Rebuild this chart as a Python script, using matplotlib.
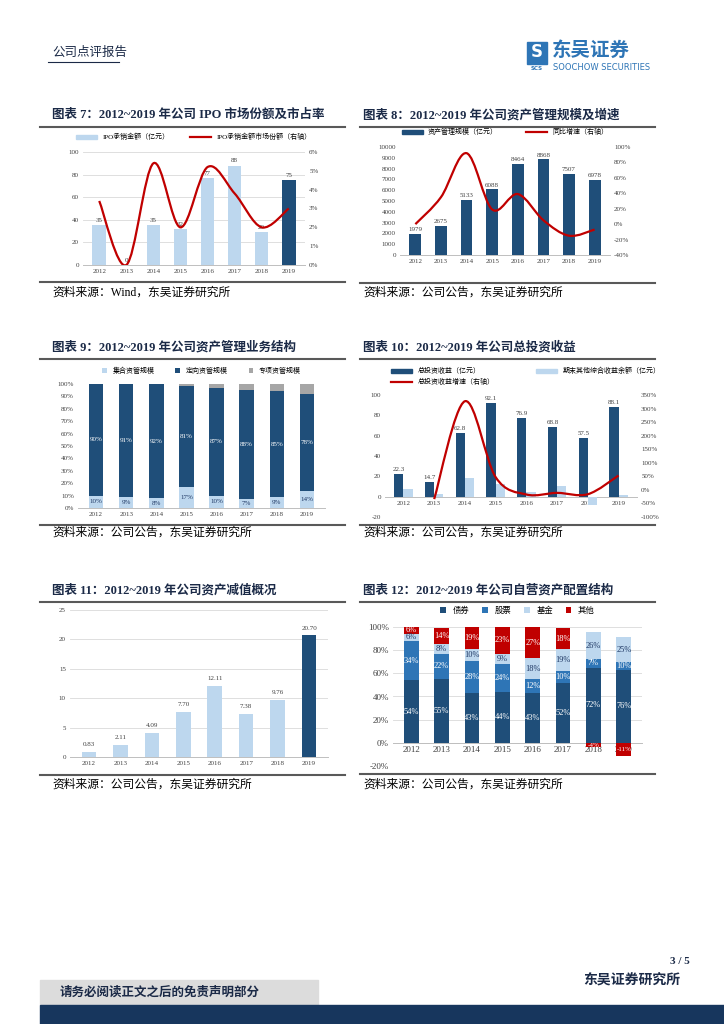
import numpy as np
import matplotlib.pyplot as plt
from matplotlib.path import Path
from matplotlib.patches import PathPatch, Rectangle
from matplotlib.ticker import FuncFormatter

plt.rcParams['font.family'] = ['Liberation Serif', 'Noto Sans CJK SC', 'DejaVu Sans']
plt.rcParams['axes.unicode_minus'] = False

years = ['2012', '2013', '2014', '2015', '2016', '2017', '2018', '2019']

# chart 7
ipo_amt = [35, 0, 35, 32, 77, 88, 29, 75]
ipo_share = [3.4, 0.0, 5.4, 2.0, 5.2, 3.8, 2.0, 3.0]
# chart 8
am_scale = [1979, 2675, 5133, 6088, 8464, 8868, 7507, 6978]
am_growth = [0, 35, 92, 19, 39, 5, -15, -7]
# chart 9
am_coll = [10, 9, 8, 17, 10, 7, 9, 14]
am_dir = [90, 91, 92, 81, 87, 88, 85, 78]
am_spec = [0, 0, 0, 2, 3, 5, 6, 8]
# chart 10
inv_total = [22.3, 14.7, 62.8, 92.1, 76.9, 68.8, 57.5, 88.1]
inv_oci = [8, 3, 18.5, 12.5, 5, 10, -8, 2]
inv_growth = [None, -34, 327, 47, -17, -11, -16, 53]
# chart 11
impair = [0.83, 2.11, 4.09, 7.70, 12.11, 7.38, 9.76, 20.70]
# chart 12
p_bond = [54, 55, 43, 44, 43, 52, 65, 63]
p_stock = [34, 22, 28, 24, 12, 10, 7, 7]
p_fund = [6, 8, 10, 9, 18, 19, 24, 21]
p_other = [6, 14, 19, 23, 27, 18, -4, -11]
lb_bond = ['54%', '55%', '43%', '44%', '43%', '52%', '72%', '76%']
lb_stock = ['34%', '22%', '28%', '24%', '12%', '10%', '7%', '10%']
lb_fund = ['6%', '8%', '10%', '9%', '18%', '19%', '26%', '25%']
lb_other = ['6%', '14%', '19%', '23%', '27%', '18%', '-4%', '-11%']

NAVY = '#1F4E79'
LIGHT = '#BDD7EE'
MID = '#2E75B6'
RED = '#C00000'
GREY = '#A6A6A6'
TXT = '#404040'
TITLE = '#1B2A47'

W, H = 724, 1024
fig = plt.figure(figsize=(7.24, 10.24), dpi=100)


def box(x0, y0, x1, y1):
    return [x0 / W, 1 - y1 / H, (x1 - x0) / W, (y1 - y0) / H]


def ftext(x, y, s, **kw):
    fig.text(x / W, 1 - y / H, s, **kw)


def hline(x0, x1, y, lw=1.5, color='#595959'):
    fig.add_artist(plt.Line2D([x0 / W, x1 / W], [1 - y / H, 1 - y / H], lw=lw, color=color))


def smooth(ax, xs, ys, color=RED, lw=1.6):
    pts = np.array([(x, y) for x, y in zip(xs, ys) if y is not None], dtype=float)
    verts = [pts[0]]
    codes = [Path.MOVETO]
    n = len(pts)
    for i in range(n - 1):
        p0 = pts[i - 1] if i > 0 else pts[i]
        p1 = pts[i]
        p2 = pts[i + 1]
        p3 = pts[i + 2] if i + 2 < n else pts[i + 1]
        verts += [p1 + (p2 - p0) / 6, p2 - (p3 - p1) / 6, p2]
        codes += [Path.CURVE4] * 3
    ax.add_patch(PathPatch(Path(verts, codes), fc='none', ec=color, lw=lw, zorder=5))


def style(ax, fs=5):
    for s in ['top', 'right', 'left']:
        ax.spines[s].set_visible(False)
    ax.spines['bottom'].set_color('#BFBFBF')
    ax.spines['bottom'].set_linewidth(0.7)
    ax.tick_params(length=0, labelsize=fs, colors=TXT, pad=3)


def panel(col, ytop, num, title):
    x0 = 52 if col == 0 else 363
    lx0, lx1 = (40, 345) if col == 0 else (360, 655)
    ftext(x0, ytop, '图表 %s：%s' % (num, title), fontsize=9, fontweight='bold',
          color=TITLE, va='center')
    hline(lx0, lx1, ytop + 12)


pct = FuncFormatter(lambda v, p: '%d%%' % round(v))
x = np.arange(8)

# header
ftext(52, 53, '公司点评报告', fontsize=9, color=TITLE, va='center')
hline(48, 119, 62, lw=0.8, color=TITLE)
fig.add_artist(Rectangle((527 / W, 1 - 64 / H), 20 / W, 22 / H, color='#2E75B6'))
ftext(537, 52, 'S', fontsize=12, fontweight='bold', color='white', ha='center', va='center',
      family='DejaVu Sans')
ftext(537, 69, 'SCS', fontsize=4, fontweight='bold', color='#2E75B6', ha='center', va='center',
      family='DejaVu Sans')
ftext(552, 50, '东吴证券', fontsize=14, fontweight='bold', color='#2E75B6', va='center',
      family=['Noto Sans CJK SC'])
ftext(553, 68, 'SOOCHOW SECURITIES', fontsize=6, color='#2E75B6', va='center',
      family='DejaVu Sans')

# ---------- chart 7 ----------
panel(0, 115, '7', '2012~2019 年公司 IPO 市场份额及市占率')
ax = fig.add_axes(box(83, 152, 305, 265))
cols = [LIGHT] * 7 + [NAVY]
ax.bar(x, ipo_amt, 0.5, color=cols, zorder=3)
for i, v in enumerate(ipo_amt):
    ax.text(i, v + 2, str(v), ha='center', va='bottom', fontsize=5, color=TXT)
ax.set_ylim(0, 100)
ax.set_yticks(range(0, 101, 20))
ax.set_xticks(x, years)
ax.set_xlim(-0.6, 7.6)
ax.grid(axis='y', color='#D9D9D9', lw=0.6, zorder=0)
style(ax)
ax2 = ax.twinx()
smooth(ax2, x, ipo_share)
ax2.set_ylim(0, 6)
ax2.set_yticks(range(0, 7))
ax2.yaxis.set_major_formatter(pct)
style(ax2)
ax2.spines['bottom'].set_visible(False)
ax.legend([Rectangle((0, 0), 1, 1, color=LIGHT), plt.Line2D([], [], color=RED, lw=1.6)],
          ['IPO承销金额（亿元）', 'IPO承销金额市场份额（右轴）'], loc='lower center',
          bbox_to_anchor=(0.5, 1.05), ncol=2, frameon=False, fontsize=5, handlelength=3,
          handleheight=0.5, columnspacing=3)
hline(40, 345, 282)
ftext(52, 293, '资料来源：Wind，东吴证券研究所', fontsize=8.5, va='center')

# ---------- chart 8 ----------
panel(1, 115, '8', '2012~2019 年公司资产管理规模及增速')
ax = fig.add_axes(box(400, 147, 610, 255))
ax.bar(x, am_scale, 0.46, color=NAVY, zorder=3)
for i, v in enumerate(am_scale):
    ax.text(i, v + 150, str(v), ha='center', va='bottom', fontsize=5, color=TXT)
ax.set_ylim(0, 10000)
ax.set_yticks(range(0, 10001, 1000))
ax.set_xticks(x, years)
ax.set_xlim(-0.6, 7.6)
style(ax)
ax2 = ax.twinx()
smooth(ax2, x, am_growth)
ax2.set_ylim(-40, 100)
ax2.set_yticks(range(-40, 101, 20))
ax2.yaxis.set_major_formatter(pct)
style(ax2)
ax2.spines['bottom'].set_visible(False)
ax.legend([Rectangle((0, 0), 1, 1, color=NAVY), plt.Line2D([], [], color=RED, lw=1.6)],
          ['资产管理规模（亿元）', '同比增速（右轴）'], loc='lower center',
          bbox_to_anchor=(0.5, 1.05), ncol=2, frameon=False, fontsize=5, handlelength=3,
          handleheight=0.5, columnspacing=4)
hline(360, 655, 283)
ftext(363, 293, '资料来源：公司公告，东吴证券研究所', fontsize=8.5, va='center')

# ---------- chart 9 ----------
panel(0, 347, '9', '2012~2019 年公司资产管理业务结构')
ax = fig.add_axes(box(78, 384, 325, 508))
b1 = np.array(am_coll)
b2 = np.array(am_dir)
ax.bar(x, am_coll, 0.48, color=LIGHT, label='集合资管规模', zorder=3)
ax.bar(x, am_dir, 0.48, bottom=b1, color=NAVY, label='定向资管规模', zorder=3)
ax.bar(x, am_spec, 0.48, bottom=b1 + b2, color=GREY, label='专项资管规模', zorder=3)
for i in range(8):
    ax.text(i, am_coll[i] / 2, '%d%%' % am_coll[i], ha='center', va='center', fontsize=5,
            color='#1F3864', zorder=4)
    ax.text(i, am_coll[i] + am_dir[i] / 2, '%d%%' % am_dir[i], ha='center', va='center',
            fontsize=5, color='white', zorder=4)
ax.set_ylim(0, 100)
ax.set_yticks(range(0, 101, 10))
ax.yaxis.set_major_formatter(pct)
ax.set_xticks(x, years)
ax.set_xlim(-0.6, 7.6)
style(ax)
ax.legend(loc='lower center', bbox_to_anchor=(0.5, 1.03), ncol=3, frameon=False, fontsize=5,
          handlelength=0.7, handleheight=0.7, columnspacing=3)
hline(40, 345, 525)
ftext(52, 533, '资料来源：公司公告，东吴证券研究所', fontsize=8.5, va='center')

# ---------- chart 10 ----------
panel(1, 347, '10', '2012~2019 年公司总投资收益')
ax = fig.add_axes(box(385, 395, 637, 517))
ax.bar(x - 0.15, inv_total, 0.3, color=NAVY, zorder=3)
ax.bar(x + 0.15, inv_oci, 0.3, color=LIGHT, zorder=3)
for i, v in enumerate(inv_total):
    ax.text(i - 0.15, v + 2, '%.1f' % v, ha='center', va='bottom', fontsize=5, color=TXT)
ax.set_ylim(-20, 100)
ax.set_yticks(range(-20, 101, 20))
ax.set_xticks(x, years)
ax.set_xlim(-0.6, 7.6)
style(ax)
ax.spines['bottom'].set_position(('data', 0))
ax2 = ax.twinx()
smooth(ax2, x, inv_growth)
ax2.set_ylim(-100, 350)
ax2.set_yticks(range(-100, 351, 50))
ax2.yaxis.set_major_formatter(pct)
style(ax2)
ax2.spines['bottom'].set_visible(False)
ax.legend([Rectangle((0, 0), 1, 1, color=NAVY), plt.Line2D([], [], color=RED, lw=1.6),
           Rectangle((0, 0), 1, 1, color=LIGHT)],
          ['总投资收益（亿元）', '总投资收益增速（右轴）', '期末其他综合收益余额（亿元）'],
          loc='lower left', bbox_to_anchor=(0.0, 1.03), ncol=2, frameon=False, fontsize=5,
          handlelength=3, handleheight=0.5, columnspacing=6)
hline(360, 655, 525)
ftext(363, 533, '资料来源：公司公告，东吴证券研究所', fontsize=8.5, va='center')

# ---------- chart 11 ----------
panel(0, 590, '11', '2012~2019 年公司资产减值概况')
ax = fig.add_axes(box(70, 610, 328, 757))
ax.bar(x, impair, 0.46, color=cols, zorder=3)
for i, v in enumerate(impair):
    ax.text(i, v + 0.8, '%.2f' % v, ha='center', va='bottom', fontsize=5, color=TXT)
ax.set_ylim(0, 25)
ax.set_yticks(range(0, 26, 5))
ax.set_xticks(x, years)
ax.set_xlim(-0.6, 7.6)
ax.grid(axis='y', color='#D9D9D9', lw=0.6, zorder=0)
style(ax)
hline(40, 345, 775)
ftext(52, 785, '资料来源：公司公告，东吴证券研究所', fontsize=8.5, va='center')

# ---------- chart 12 ----------
panel(1, 590, '12', '2012~2019 年公司自营资产配置结构')
ax = fig.add_axes(box(393, 627, 642, 766))
bond = np.array(p_bond)
stock = np.array(p_stock)
fund = np.array(p_fund)
other = np.array(p_other)
pos_other = np.where(other > 0, other, 0)
neg_other = np.where(other < 0, other, 0)
ax.bar(x, bond, 0.48, color=NAVY, label='债券', zorder=3)
ax.bar(x, stock, 0.48, bottom=bond, color=MID, label='股票', zorder=3)
ax.bar(x, fund, 0.48, bottom=bond + stock, color=LIGHT, label='基金', zorder=3)
ax.bar(x, pos_other, 0.48, bottom=bond + stock + fund, color=RED, label='其他', zorder=3)
ax.bar(x, neg_other, 0.48, color=RED, zorder=3)
for i in range(8):
    ax.text(i, bond[i] / 2, lb_bond[i], ha='center', va='center', fontsize=6, color='white', zorder=4)
    ax.text(i, bond[i] + stock[i] / 2, lb_stock[i], ha='center', va='center', fontsize=6,
            color='white', zorder=4)
    ax.text(i, bond[i] + stock[i] + fund[i] / 2, lb_fund[i], ha='center', va='center',
            fontsize=6, color='#1F3864', zorder=4)
    if other[i] > 0:
        yy = bond[i] + stock[i] + fund[i] + other[i] / 2
        fs = 6
    else:
        yy = other[i] / 2
        fs = 5
    ax.text(i, yy, lb_other[i], ha='center', va='center', fontsize=fs, color='white', zorder=4)
ax.set_ylim(-20, 100)
ax.set_yticks(range(-20, 101, 20))
ax.yaxis.set_major_formatter(pct)
ax.set_xticks(x, years)
ax.set_xlim(-0.6, 7.6)
ax.grid(axis='y', color='#D9D9D9', lw=0.6, zorder=0)
style(ax, fs=6.5)
ax.spines['bottom'].set_position(('data', 0))
ax.tick_params(axis='x', pad=2, labelsize=6.5)
ax.legend(loc='lower center', bbox_to_anchor=(0.5, 1.03), ncol=4, frameon=False, fontsize=6,
          handlelength=0.7, handleheight=0.7, columnspacing=1.5)
hline(360, 655, 774)
ftext(363, 785, '资料来源：公司公告，东吴证券研究所', fontsize=8.5, va='center')

# footer
ftext(690, 961, '3 / 5', fontsize=8, fontweight='bold', color=TITLE, ha='right', va='center')
ftext(680, 981, '东吴证券研究所', fontsize=10, fontweight='bold', color=TITLE, ha='right',
      va='center')
fig.add_artist(Rectangle((40 / W, 1 - 1005 / H), 278 / W, 25 / H, color='#DCDCDC'))
fig.add_artist(Rectangle((40 / W, 0), 684 / W, 19 / H, color='#17365D'))
ftext(60, 993, '请务必阅读正文之后的免责声明部分', fontsize=9, fontweight='bold', color=TITLE,
      va='center')

fig.savefig('out.png', dpi=100)
